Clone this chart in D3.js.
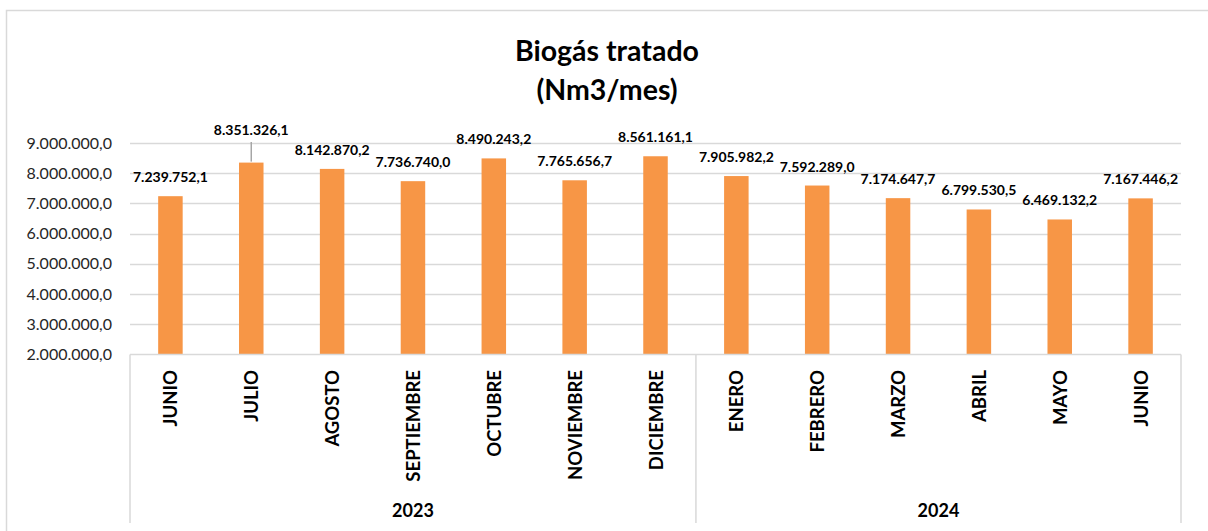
<!DOCTYPE html>
<html>
<head>
<meta charset="utf-8">
<script src="https://cdn.jsdelivr.net/npm/d3@7"></script>
<style>
  html, body { margin: 0; padding: 0; background: #fff; }
  svg { display: block; font-family: "Lato", "Open Sans", sans-serif; }
</style>
</head>
<body>
<svg id="chart" width="1208" height="531"></svg>
<script>
const months = ["JUNIO","JULIO","AGOSTO","SEPTIEMBRE","OCTUBRE","NOVIEMBRE","DICIEMBRE",
                "ENERO","FEBRERO","MARZO","ABRIL","MAYO","JUNIO"];
const years = ["2023","2024"];
const yearOf = ["2023","2023","2023","2023","2023","2023","2023",
                "2024","2024","2024","2024","2024","2024"];
const values = [7239752.1, 8351326.1, 8142870.2, 7736740.0, 8490243.2, 7765656.7, 8561161.1,
                7905982.2, 7592289.0, 7174647.7, 6799530.5, 6469132.2, 7167446.2];
const yTicks = [2000000, 3000000, 4000000, 5000000, 6000000, 7000000, 8000000, 9000000];
const titleLines = ["Biogás tratado", "(Nm3/mes)"];

(function () {
const svg = d3.select("#chart");
const mLeft = 130, mRight = 1181, mTop = 143, mBottom = 354.5, axisBottom = 523;

// Spanish number format: thousands ".", decimal ","
const es = d3.formatLocale({decimal: ",", thousands: ".", grouping: [3], currency: ["", ""]});
const fmt = es.format(",.1f");

// outer border
svg.append("rect").attr("x", 6.5).attr("y", 10.5).attr("width", 1230).attr("height", 560)
  .attr("fill", "none").attr("stroke", "#d9d9d9").attr("stroke-width", 1.5);

// title
svg.append("g").selectAll("text").data(titleLines).join("text")
  .attr("x", 607).attr("y", (d, i) => 61 + i * 39)
  .attr("text-anchor", "middle").attr("font-weight", "bold").attr("font-size", 28.5)
  .attr("fill", "#000").text(d => d);

const x = d3.scaleBand().domain(d3.range(months.length)).range([mLeft, mRight]).paddingInner(0).paddingOuter(0);
const y = d3.scaleLinear().domain([2000000, 9000000]).range([mBottom, mTop]);

// gridlines
svg.append("g").selectAll("line").data(yTicks.slice(1)).join("line")
  .attr("x1", mLeft).attr("x2", mRight)
  .attr("y1", d => Math.round(y(d)) + 0.5).attr("y2", d => Math.round(y(d)) + 0.5)
  .attr("stroke", "#d9d9d9").attr("stroke-width", 1.5);

// y axis labels
const yAxis = d3.axisLeft(y).tickValues(yTicks).tickFormat(fmt).tickSize(0).tickPadding(18);
const ya = svg.append("g").attr("transform", `translate(${mLeft},0)`).call(yAxis);
ya.select(".domain").remove();
ya.selectAll("text").attr("font-size", 16).attr("fill", "#262626")
  .attr("font-family", "Lato, sans-serif");

// bars
const bw = 24.5;
svg.append("g").selectAll("rect").data(values).join("rect")
  .attr("x", (d, i) => x(i) + x.bandwidth() / 2 - bw / 2)
  .attr("width", bw)
  .attr("y", d => y(d))
  .attr("height", d => y(2000000) - y(d))
  .attr("fill", "#F79646");

// data labels
const lbl = svg.append("g");
values.forEach((v, i) => {
  const cx = x(i) + x.bandwidth() / 2;
  const yt = y(v);
  let by = yt - 14;
  if (i === 1) {
    lbl.append("line").attr("x1", cx).attr("x2", cx).attr("y1", yt - 1).attr("y2", mTop - 1)
      .attr("stroke", "#a6a6a6").attr("stroke-width", 1.5);
    by = mTop - 8;
  }
  lbl.append("text").attr("x", cx).attr("y", by).attr("text-anchor", "middle")
    .attr("font-weight", "bold").attr("font-size", 14).attr("fill", "#000")
    .text(fmt(v));
});

// category axis lines
const ax = svg.append("g").attr("stroke", "#d9d9d9").attr("stroke-width", 1.5);
ax.append("line").attr("x1", mLeft).attr("x2", mRight).attr("y1", mBottom).attr("y2", mBottom);
const groupEdges = [mLeft];
years.forEach(yr => {
  const idx = yearOf.map((d, i) => d === yr ? i : -1).filter(i => i >= 0);
  groupEdges.push(x(idx[idx.length - 1]) + x.bandwidth());
});
ax.selectAll("line.sep").data(groupEdges).join("line").attr("class", "sep")
  .attr("x1", d => d).attr("x2", d => d).attr("y1", mBottom).attr("y2", axisBottom);

// month labels (rotated)
svg.append("g").selectAll("text").data(months).join("text")
  .attr("transform", (d, i) => `translate(${x(i) + x.bandwidth() / 2 + 7},370) rotate(-90)`)
  .attr("text-anchor", "end").attr("font-weight", "bold").attr("font-size", 18.5)
  .attr("fill", "#000").text(d => d);

// year labels
svg.append("g").selectAll("text").data(years).join("text")
  .attr("x", yr => {
    const idx = yearOf.map((d, i) => d === yr ? i : -1).filter(i => i >= 0);
    return (x(idx[0]) + x(idx[idx.length - 1]) + x.bandwidth()) / 2;
  })
  .attr("y", 517).attr("text-anchor", "middle").attr("font-weight", "bold")
  .attr("font-size", 18).attr("fill", "#000").text(d => d);
})();
</script>
</body>
</html>
